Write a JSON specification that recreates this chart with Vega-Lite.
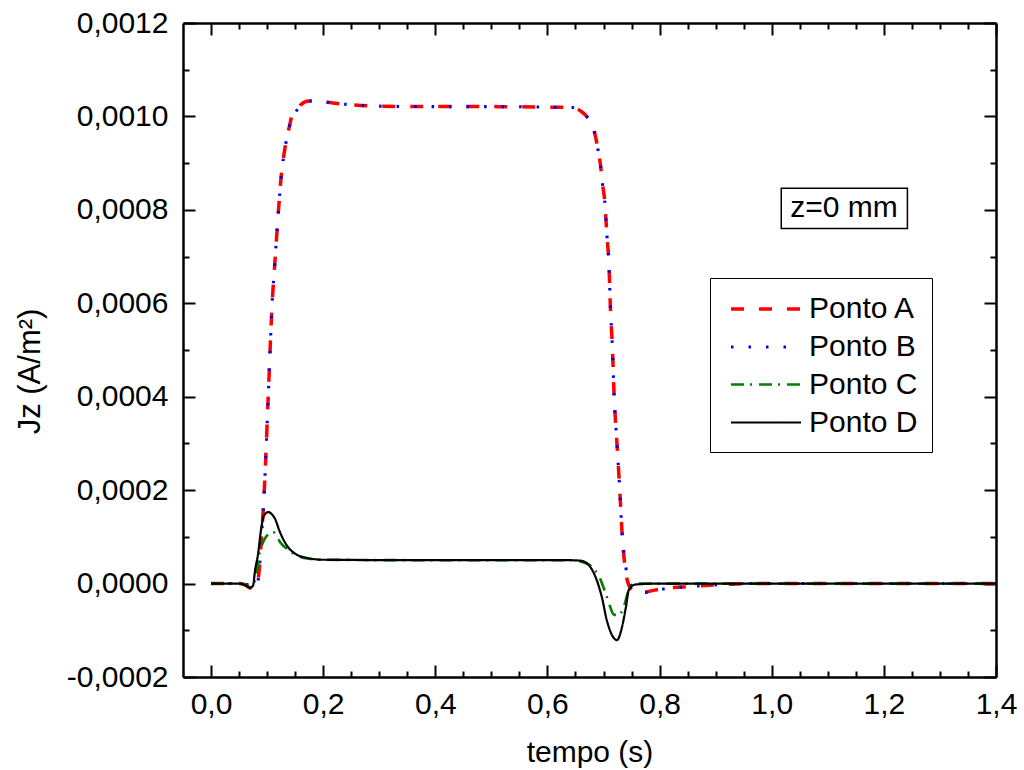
{
  "$schema": "https://vega.github.io/schema/vega-lite/v6.json",
  "width": 813,
  "height": 654,
  "autosize": {"type": "none"},
  "padding": {"left": 183, "top": 23, "right": 28, "bottom": 93},
  "background": "white",
  "config": {
    "view": {"stroke": null},
    "font": "Liberation Sans",
    "axis": {
      "grid": false,
      "domainColor": "black",
      "domainWidth": 2.5,
      "ticks": true,
      "tickColor": "black",
      "tickWidth": 2,
      "labelFont": "Liberation Sans",
      "labelFontSize": 30,
      "labelColor": "black",
      "titleFont": "Liberation Sans",
      "titleFontSize": 30,
      "titleFontWeight": "normal",
      "titleColor": "black",
      "labelOverlap": false,
      "labelFlush": false
    }
  },
  "datasets": {
    "jz": [
      {"t": 0.0, "v": 0, "s": "Ponto A"},
      {"t": 0.03, "v": 0, "s": "Ponto A"},
      {"t": 0.05, "v": 0, "s": "Ponto A"},
      {"t": 0.06, "v": -0.000002, "s": "Ponto A"},
      {"t": 0.07, "v": -0.00001, "s": "Ponto A"},
      {"t": 0.078, "v": -0.000008, "s": "Ponto A"},
      {"t": 0.084, "v": 0.00001, "s": "Ponto A"},
      {"t": 0.09, "v": 0.0001, "s": "Ponto A"},
      {"t": 0.095, "v": 0.0002, "s": "Ponto A"},
      {"t": 0.102, "v": 0.0004, "s": "Ponto A"},
      {"t": 0.109, "v": 0.0006, "s": "Ponto A"},
      {"t": 0.114, "v": 0.00069, "s": "Ponto A"},
      {"t": 0.118, "v": 0.00076, "s": "Ponto A"},
      {"t": 0.121, "v": 0.00081, "s": "Ponto A"},
      {"t": 0.125, "v": 0.00087, "s": "Ponto A"},
      {"t": 0.129, "v": 0.00091, "s": "Ponto A"},
      {"t": 0.133, "v": 0.00094, "s": "Ponto A"},
      {"t": 0.14, "v": 0.00098, "s": "Ponto A"},
      {"t": 0.144, "v": 0.001, "s": "Ponto A"},
      {"t": 0.151, "v": 0.00101, "s": "Ponto A"},
      {"t": 0.16, "v": 0.001025, "s": "Ponto A"},
      {"t": 0.175, "v": 0.001033, "s": "Ponto A"},
      {"t": 0.2, "v": 0.001031, "s": "Ponto A"},
      {"t": 0.24, "v": 0.001026, "s": "Ponto A"},
      {"t": 0.3, "v": 0.001022, "s": "Ponto A"},
      {"t": 0.4, "v": 0.001021, "s": "Ponto A"},
      {"t": 0.5, "v": 0.001021, "s": "Ponto A"},
      {"t": 0.6, "v": 0.00102, "s": "Ponto A"},
      {"t": 0.645, "v": 0.001019, "s": "Ponto A"},
      {"t": 0.661, "v": 0.00101, "s": "Ponto A"},
      {"t": 0.67, "v": 0.001, "s": "Ponto A"},
      {"t": 0.684, "v": 0.000966, "s": "Ponto A"},
      {"t": 0.69, "v": 0.00093, "s": "Ponto A"},
      {"t": 0.695, "v": 0.000892, "s": "Ponto A"},
      {"t": 0.698, "v": 0.000857, "s": "Ponto A"},
      {"t": 0.702, "v": 0.000821, "s": "Ponto A"},
      {"t": 0.706, "v": 0.000747, "s": "Ponto A"},
      {"t": 0.71, "v": 0.000675, "s": "Ponto A"},
      {"t": 0.712, "v": 0.0006, "s": "Ponto A"},
      {"t": 0.716, "v": 0.0005, "s": "Ponto A"},
      {"t": 0.719, "v": 0.0004, "s": "Ponto A"},
      {"t": 0.724, "v": 0.0003, "s": "Ponto A"},
      {"t": 0.729, "v": 0.0002, "s": "Ponto A"},
      {"t": 0.733, "v": 0.00011, "s": "Ponto A"},
      {"t": 0.737, "v": 0.00005, "s": "Ponto A"},
      {"t": 0.741, "v": 0.000015, "s": "Ponto A"},
      {"t": 0.748, "v": -0.00001, "s": "Ponto A"},
      {"t": 0.76, "v": -0.00002, "s": "Ponto A"},
      {"t": 0.78, "v": -0.000017, "s": "Ponto A"},
      {"t": 0.804, "v": -0.000011, "s": "Ponto A"},
      {"t": 0.86, "v": -0.000006, "s": "Ponto A"},
      {"t": 0.914, "v": -0.000002, "s": "Ponto A"},
      {"t": 0.96, "v": 0, "s": "Ponto A"},
      {"t": 1.1, "v": 0, "s": "Ponto A"},
      {"t": 1.25, "v": 0, "s": "Ponto A"},
      {"t": 1.4, "v": 0, "s": "Ponto A"},

      {"t": 0.0, "v": 0, "s": "Ponto B"},
      {"t": 0.03, "v": 0, "s": "Ponto B"},
      {"t": 0.055, "v": 0, "s": "Ponto B"},
      {"t": 0.066, "v": -0.000003, "s": "Ponto B"},
      {"t": 0.075, "v": -0.000008, "s": "Ponto B"},
      {"t": 0.08, "v": -0.000007, "s": "Ponto B"},
      {"t": 0.085, "v": 0.000015, "s": "Ponto B"},
      {"t": 0.09, "v": 0.0001, "s": "Ponto B"},
      {"t": 0.095, "v": 0.0002, "s": "Ponto B"},
      {"t": 0.102, "v": 0.0004, "s": "Ponto B"},
      {"t": 0.109, "v": 0.0006, "s": "Ponto B"},
      {"t": 0.114, "v": 0.00069, "s": "Ponto B"},
      {"t": 0.118, "v": 0.00076, "s": "Ponto B"},
      {"t": 0.121, "v": 0.00081, "s": "Ponto B"},
      {"t": 0.125, "v": 0.00087, "s": "Ponto B"},
      {"t": 0.129, "v": 0.00091, "s": "Ponto B"},
      {"t": 0.133, "v": 0.00094, "s": "Ponto B"},
      {"t": 0.14, "v": 0.00098, "s": "Ponto B"},
      {"t": 0.144, "v": 0.001, "s": "Ponto B"},
      {"t": 0.151, "v": 0.00101, "s": "Ponto B"},
      {"t": 0.16, "v": 0.001025, "s": "Ponto B"},
      {"t": 0.175, "v": 0.001033, "s": "Ponto B"},
      {"t": 0.2, "v": 0.001031, "s": "Ponto B"},
      {"t": 0.24, "v": 0.001026, "s": "Ponto B"},
      {"t": 0.3, "v": 0.001022, "s": "Ponto B"},
      {"t": 0.4, "v": 0.001021, "s": "Ponto B"},
      {"t": 0.5, "v": 0.001021, "s": "Ponto B"},
      {"t": 0.6, "v": 0.00102, "s": "Ponto B"},
      {"t": 0.645, "v": 0.001019, "s": "Ponto B"},
      {"t": 0.661, "v": 0.00101, "s": "Ponto B"},
      {"t": 0.67, "v": 0.001, "s": "Ponto B"},
      {"t": 0.684, "v": 0.000966, "s": "Ponto B"},
      {"t": 0.69, "v": 0.00093, "s": "Ponto B"},
      {"t": 0.695, "v": 0.000892, "s": "Ponto B"},
      {"t": 0.698, "v": 0.000857, "s": "Ponto B"},
      {"t": 0.702, "v": 0.000821, "s": "Ponto B"},
      {"t": 0.706, "v": 0.000747, "s": "Ponto B"},
      {"t": 0.71, "v": 0.000675, "s": "Ponto B"},
      {"t": 0.712, "v": 0.0006, "s": "Ponto B"},
      {"t": 0.716, "v": 0.0005, "s": "Ponto B"},
      {"t": 0.719, "v": 0.0004, "s": "Ponto B"},
      {"t": 0.724, "v": 0.0003, "s": "Ponto B"},
      {"t": 0.729, "v": 0.0002, "s": "Ponto B"},
      {"t": 0.733, "v": 0.00011, "s": "Ponto B"},
      {"t": 0.737, "v": 0.00006, "s": "Ponto B"},
      {"t": 0.742, "v": 0.00002, "s": "Ponto B"},
      {"t": 0.752, "v": -0.000008, "s": "Ponto B"},
      {"t": 0.765, "v": -0.000017, "s": "Ponto B"},
      {"t": 0.778, "v": -0.000019, "s": "Ponto B"},
      {"t": 0.8, "v": -0.000013, "s": "Ponto B"},
      {"t": 0.86, "v": -0.000006, "s": "Ponto B"},
      {"t": 0.914, "v": -0.000002, "s": "Ponto B"},
      {"t": 0.96, "v": 0, "s": "Ponto B"},
      {"t": 1.1, "v": 0, "s": "Ponto B"},
      {"t": 1.25, "v": 0, "s": "Ponto B"},
      {"t": 1.4, "v": 0, "s": "Ponto B"},

      {"t": 0.0, "v": 0, "s": "Ponto C"},
      {"t": 0.03, "v": 0, "s": "Ponto C"},
      {"t": 0.05, "v": 0, "s": "Ponto C"},
      {"t": 0.062, "v": -0.000004, "s": "Ponto C"},
      {"t": 0.07, "v": -0.000008, "s": "Ponto C"},
      {"t": 0.076, "v": -0.000002, "s": "Ponto C"},
      {"t": 0.083, "v": 0.000036, "s": "Ponto C"},
      {"t": 0.087, "v": 0.000068, "s": "Ponto C"},
      {"t": 0.093, "v": 0.000089, "s": "Ponto C"},
      {"t": 0.1, "v": 0.000103, "s": "Ponto C"},
      {"t": 0.106, "v": 0.000109, "s": "Ponto C"},
      {"t": 0.111, "v": 0.00011, "s": "Ponto C"},
      {"t": 0.117, "v": 0.000102, "s": "Ponto C"},
      {"t": 0.123, "v": 0.000089, "s": "Ponto C"},
      {"t": 0.135, "v": 0.000075, "s": "Ponto C"},
      {"t": 0.153, "v": 0.00006, "s": "Ponto C"},
      {"t": 0.175, "v": 0.000053, "s": "Ponto C"},
      {"t": 0.2, "v": 0.000051, "s": "Ponto C"},
      {"t": 0.4, "v": 0.00005, "s": "Ponto C"},
      {"t": 0.6, "v": 0.00005, "s": "Ponto C"},
      {"t": 0.64, "v": 0.00005, "s": "Ponto C"},
      {"t": 0.66, "v": 0.000047, "s": "Ponto C"},
      {"t": 0.676, "v": 0.000039, "s": "Ponto C"},
      {"t": 0.694, "v": 0.00001, "s": "Ponto C"},
      {"t": 0.706, "v": -0.000029, "s": "Ponto C"},
      {"t": 0.712, "v": -0.00005, "s": "Ponto C"},
      {"t": 0.718, "v": -0.000066, "s": "Ponto C"},
      {"t": 0.727, "v": -0.000068, "s": "Ponto C"},
      {"t": 0.736, "v": -0.00005, "s": "Ponto C"},
      {"t": 0.745, "v": -0.000014, "s": "Ponto C"},
      {"t": 0.751, "v": -0.000004, "s": "Ponto C"},
      {"t": 0.76, "v": 0, "s": "Ponto C"},
      {"t": 0.9, "v": 0, "s": "Ponto C"},
      {"t": 1.1, "v": 0, "s": "Ponto C"},
      {"t": 1.4, "v": 0, "s": "Ponto C"},

      {"t": 0.0, "v": 0, "s": "Ponto D"},
      {"t": 0.03, "v": 0, "s": "Ponto D"},
      {"t": 0.05, "v": 0, "s": "Ponto D"},
      {"t": 0.062, "v": -0.000004, "s": "Ponto D"},
      {"t": 0.07, "v": -0.000009, "s": "Ponto D"},
      {"t": 0.075, "v": -0.000004, "s": "Ponto D"},
      {"t": 0.0785, "v": 0.000028, "s": "Ponto D"},
      {"t": 0.084, "v": 0.000064, "s": "Ponto D"},
      {"t": 0.089, "v": 0.000114, "s": "Ponto D"},
      {"t": 0.0946, "v": 0.000146, "s": "Ponto D"},
      {"t": 0.102, "v": 0.000153, "s": "Ponto D"},
      {"t": 0.108, "v": 0.000149, "s": "Ponto D"},
      {"t": 0.114, "v": 0.000139, "s": "Ponto D"},
      {"t": 0.123, "v": 0.00011, "s": "Ponto D"},
      {"t": 0.135, "v": 0.000082, "s": "Ponto D"},
      {"t": 0.15, "v": 0.000064, "s": "Ponto D"},
      {"t": 0.171, "v": 0.000055, "s": "Ponto D"},
      {"t": 0.2, "v": 0.000051, "s": "Ponto D"},
      {"t": 0.4, "v": 0.00005, "s": "Ponto D"},
      {"t": 0.6, "v": 0.00005, "s": "Ponto D"},
      {"t": 0.64, "v": 0.00005, "s": "Ponto D"},
      {"t": 0.659, "v": 0.000049, "s": "Ponto D"},
      {"t": 0.676, "v": 0.000036, "s": "Ponto D"},
      {"t": 0.688, "v": 0.000007, "s": "Ponto D"},
      {"t": 0.697, "v": -0.000029, "s": "Ponto D"},
      {"t": 0.706, "v": -0.000079, "s": "Ponto D"},
      {"t": 0.715, "v": -0.00011, "s": "Ponto D"},
      {"t": 0.724, "v": -0.000121, "s": "Ponto D"},
      {"t": 0.733, "v": -0.000093, "s": "Ponto D"},
      {"t": 0.74, "v": -0.00005, "s": "Ponto D"},
      {"t": 0.745, "v": -0.000014, "s": "Ponto D"},
      {"t": 0.757, "v": -0.000002, "s": "Ponto D"},
      {"t": 0.8, "v": 0, "s": "Ponto D"},
      {"t": 1.0, "v": 0, "s": "Ponto D"},
      {"t": 1.2, "v": 0, "s": "Ponto D"},
      {"t": 1.4, "v": 0, "s": "Ponto D"}
    ]
  },
  "layer": [
    {
      "data": {"name": "jz"},
      "mark": {"type": "line", "interpolate": "monotone", "clip": true},
      "encoding": {
        "x": {
          "field": "t",
          "type": "quantitative",
          "scale": {"domain": [-0.05, 1.4], "nice": false, "zero": false},
          "axis": {
            "orient": "bottom",
            "values": [0, 0.05, 0.1, 0.15, 0.2, 0.25, 0.3, 0.35, 0.4, 0.45, 0.5, 0.55, 0.6, 0.65, 0.7, 0.75, 0.8, 0.85, 0.9, 0.95, 1.0, 1.05, 1.1, 1.15, 1.2, 1.25, 1.3, 1.35, 1.4],
            "labelExpr": "abs(datum.value*5-round(datum.value*5))<1e-6 ? replace(format(datum.value,'.1f'),'.',',') : ''",
            "tickSize": {"expr": "abs(datum.value*5-round(datum.value*5))<1e-6 ? -12 : -6"},
            "labelPadding": 39,
            "labelBaseline": "middle",
            "title": "tempo (s)",
            "titleBaseline": "middle",
            "titleY": 75
          }
        },
        "y": {
          "field": "v",
          "type": "quantitative",
          "scale": {"domain": [-0.0002, 0.0012], "nice": false, "zero": false},
          "axis": {
            "orient": "left",
            "values": [-0.0002, -0.0001, 0, 0.0001, 0.0002, 0.0003, 0.0004, 0.0005, 0.0006, 0.0007, 0.0008, 0.0009, 0.001, 0.0011, 0.0012],
            "labelExpr": "abs(datum.value*5000-round(datum.value*5000))<1e-6 ? replace(replace(format(datum.value,'.4f'),'.',','),'\u2212','-') : ''",
            "tickSize": {"expr": "abs(datum.value*5000-round(datum.value*5000))<1e-6 ? -12 : -6"},
            "labelPadding": 27,
            "title": "Jz (A/m\u00b2)",
            "titleFontSize": 31,
            "titleBaseline": "middle",
            "titleAngle": -90,
            "titleX": -153,
            "titleY": 348
          }
        },
        "color": {
          "field": "s",
          "type": "nominal",
          "scale": {"domain": ["Ponto A", "Ponto B", "Ponto C", "Ponto D"], "range": ["#ff0000", "#0000ff", "#008000", "#000000"]},
          "legend": {
            "orient": "none", "legendX": 527, "legendY": 255, "title": null,
            "symbolType": "M-2.333,0H2.333", "symbolSize": 900, "symbolStrokeWidth": 3,
            "labelFontSize": 30, "labelFont": "Liberation Sans", "labelColor": "black",
            "strokeColor": "black", "fillColor": "white", "padding": 14, "rowPadding": 6,
            "labelOffset": 26, "symbolOffset": 25
          }
        },
        "strokeDash": {
          "field": "s",
          "type": "nominal",
          "scale": {"domain": ["Ponto A", "Ponto B", "Ponto C", "Ponto D"], "range": [[13, 15], [2.5, 15], [13, 6, 2, 7], [1, 0]]},
          "legend": {
            "orient": "none", "legendX": 527, "legendY": 255, "title": null,
            "symbolType": "M-2.333,0H2.333", "symbolSize": 900, "symbolStrokeWidth": 3,
            "labelFontSize": 30, "labelFont": "Liberation Sans", "labelColor": "black",
            "strokeColor": "black", "fillColor": "white", "padding": 14, "rowPadding": 6,
            "labelOffset": 26, "symbolOffset": 25
          }
        },
        "strokeWidth": {
          "field": "s",
          "type": "nominal",
          "scale": {"domain": ["Ponto A", "Ponto B", "Ponto C", "Ponto D"], "range": [3.5, 2.2, 2.5, 2.6]},
          "legend": null
        }
      }
    },
    {
      "data": {"name": "jz"},
      "mark": {"type": "line", "opacity": 0},
      "encoding": {
        "x": {
          "field": "t",
          "type": "quantitative",
          "axis": {
            "orient": "top",
            "values": [0, 0.05, 0.1, 0.15, 0.2, 0.25, 0.3, 0.35, 0.4, 0.45, 0.5, 0.55, 0.6, 0.65, 0.7, 0.75, 0.8, 0.85, 0.9, 0.95, 1.0, 1.05, 1.1, 1.15, 1.2, 1.25, 1.3, 1.35, 1.4],
            "labels": false,
            "title": null,
            "tickSize": {"expr": "abs(datum.value*5-round(datum.value*5))<1e-6 ? -12 : -6"}
          }
        },
        "y": {
          "field": "v",
          "type": "quantitative",
          "axis": {
            "orient": "right",
            "values": [-0.0002, -0.0001, 0, 0.0001, 0.0002, 0.0003, 0.0004, 0.0005, 0.0006, 0.0007, 0.0008, 0.0009, 0.001, 0.0011, 0.0012],
            "labels": false,
            "title": null,
            "tickSize": {"expr": "abs(datum.value*5000-round(datum.value*5000))<1e-6 ? -12 : -6"}
          }
        }
      }
    },
    {
      "data": {"values": [{}]},
      "mark": {"type": "rect", "fill": "white", "stroke": "black", "strokeWidth": 1.5},
      "encoding": {
        "x": {"datum": 1.017, "type": "quantitative", "axis": null},
        "x2": {"datum": 1.242},
        "y": {"datum": 0.000846, "type": "quantitative", "axis": null},
        "y2": {"datum": 0.00076}
      }
    },
    {
      "data": {"values": [{}]},
      "mark": {"type": "text", "fontSize": 30, "font": "Liberation Sans", "color": "black", "align": "center", "baseline": "middle"},
      "encoding": {
        "x": {"datum": 1.129, "type": "quantitative", "axis": null},
        "y": {"datum": 0.000803, "type": "quantitative", "axis": null},
        "text": {"value": "z=0 mm"}
      }
    }
  ],
  "resolve": {"axis": {"x": "independent", "y": "independent"}}
}
